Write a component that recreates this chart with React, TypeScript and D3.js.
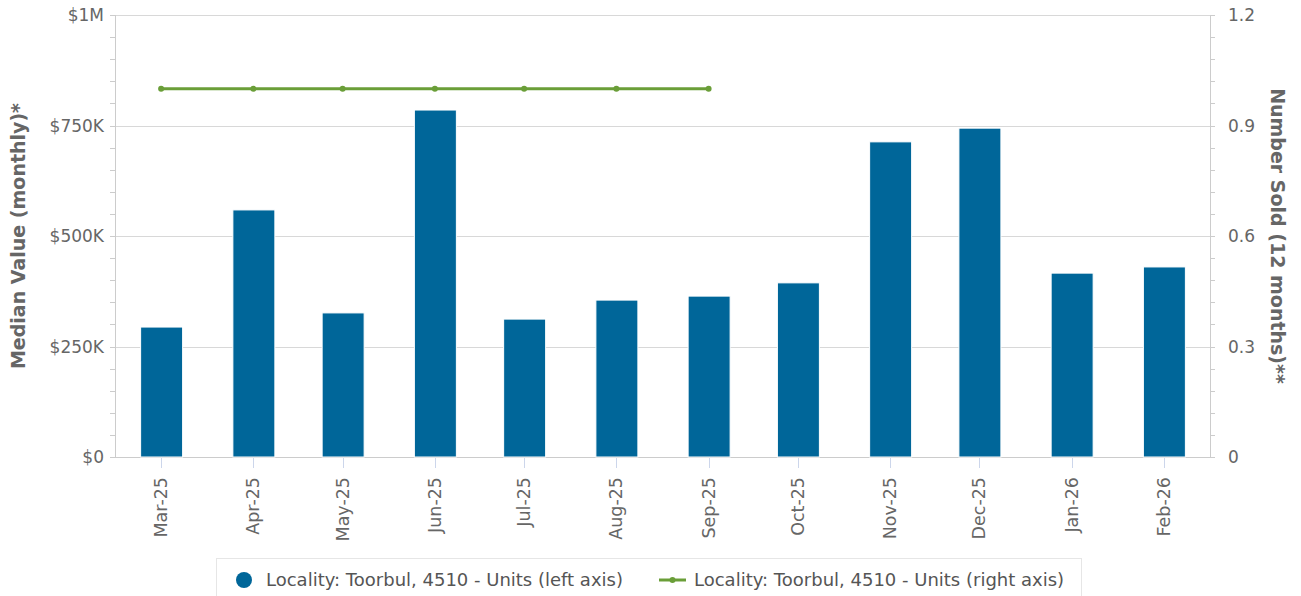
import React from "react";
import * as d3 from "d3";

const months = ["Mar-25","Apr-25","May-25","Jun-25","Jul-25","Aug-25","Sep-25","Oct-25","Nov-25","Dec-25","Jan-26","Feb-26"];
const monthDates = months.map((m) => d3.timeParse("%b-%y")(m) as Date);
const medianValues = [294000, 559000, 326000, 785000, 312000, 355000, 364000, 394000, 713000, 744000, 416000, 430000];
const numberSold: (number | null)[] = [1, 1, 1, 1, 1, 1, 1, null, null, null, null, null];
const leftTicks = [0, 250000, 500000, 750000, 1000000];
const leftTickLabels = ["$0", "$250K", "$500K", "$750K", "$1M"];
const rightTicks = [0, 0.3, 0.6, 0.9, 1.2];
const rightTickLabels = ["0", "0.3", "0.6", "0.9", "1.2"];
const seriesNames = ["Locality: Toorbul, 4510 - Units (left axis)", "Locality: Toorbul, 4510 - Units (right axis)"];

const W = 1301, H = 596;
const L = 115, R = 1210, T = 15, B = 457;
const BAR = "#006699";
const GREEN = "#6a9e38";
const FONT = "'DejaVu Sans', sans-serif";

export default function App() {
  const x = d3.scaleTime()
    .domain([d3.timeHour.offset(monthDates[0], -15.5 * 24), d3.timeHour.offset(monthDates[11], 15.5 * 24)])
    .range([L, R]);
  const yL = d3.scaleLinear().domain([0, 1000000]).range([B, T]);
  const yR = d3.scaleLinear().domain([0, 1.2]).range([B, T]);
  const minorL = d3.range(0, 1000001, 50000);
  const minorR = d3.range(0, 1.2001, 0.06);
  const barW = 42;
  const line = d3.line<[Date, number | null]>()
    .defined((d) => d[1] != null)
    .x((d) => x(d[0]))
    .y((d) => yR(d[1] as number));
  const lineData: [Date, number | null][] = monthDates.map((d, i) => [d, numberSold[i]]);

  return (
    <svg width={W} height={H} style={{ position: "fixed", left: 0, top: 0, background: "#fff" }} fontFamily={FONT}>
      {leftTicks.map((t) => (
        <line key={"g" + t} x1={L} x2={R} y1={Math.round(yL(t)) + 0.5} y2={Math.round(yL(t)) + 0.5} stroke="#d8d8d8" strokeWidth={1} />
      ))}
      <line x1={L + 0.5} x2={L + 0.5} y1={T} y2={B} stroke="#cccccc" />
      <line x1={R + 0.5} x2={R + 0.5} y1={T} y2={B} stroke="#cccccc" />
      <line x1={L} x2={R} y1={B + 0.5} y2={B + 0.5} stroke="#cccccc" />
      {minorL.map((t) => (
        <line key={"ml" + t} x1={L - 5} x2={L} y1={Math.round(yL(t)) + 0.5} y2={Math.round(yL(t)) + 0.5} stroke="#cccccc" />
      ))}
      {minorR.map((t, i) => (
        <line key={"mr" + i} x1={R} x2={R + 5} y1={Math.round(yR(t)) + 0.5} y2={Math.round(yR(t)) + 0.5} stroke="#cccccc" />
      ))}
      {monthDates.map((d, i) => (
        <rect key={"b" + i} x={x(d) - barW / 2 + 0.5} y={yL(medianValues[i])} width={barW} height={B - yL(medianValues[i])} fill={BAR} stroke="#fff" strokeWidth={1} />
      ))}
      {monthDates.map((d, i) => (
        <line key={"xt" + i} x1={Math.round(x(d)) + 0.5} x2={Math.round(x(d)) + 0.5} y1={B + 1} y2={B + 11} stroke="#ccd6eb" />
      ))}
      {monthDates.map((d, i) => (
        <text key={"xl" + i} transform={`translate(${x(d) + 6},${B + 20}) rotate(-90)`} textAnchor="end" fontSize={17.5} fill="#666666">
          {months[i]}
        </text>
      ))}
      {leftTicks.map((t, i) => (
        <text key={"ll" + t} x={L - 11} y={yL(t) + 6} textAnchor="end" fontSize={17} fill="#666666">{leftTickLabels[i]}</text>
      ))}
      {rightTicks.map((t, i) => (
        <text key={"rl" + i} x={R + 18} y={yR(t) + 6} textAnchor="start" fontSize={17} fill="#666666">{rightTickLabels[i]}</text>
      ))}
      <text transform={`translate(25,${(T + B) / 2}) rotate(-90)`} textAnchor="middle" fontSize={19} fontWeight="bold" fill="#666666">Median Value (monthly)*</text>
      <text transform={`translate(1271,${(T + B) / 2}) rotate(90)`} textAnchor="middle" fontSize={19} fontWeight="bold" fill="#666666">Number Sold (12 months)**</text>
      <path d={line(lineData) || ""} fill="none" stroke={GREEN} strokeWidth={3} />
      {lineData.filter((d) => d[1] != null).map((d, i) => (
        <circle key={"p" + i} cx={x(d[0])} cy={yR(d[1] as number)} r={3} fill={GREEN} />
      ))}
      <rect x={216.5} y={558.5} width={865} height={50} fill="#fff" stroke="#e6e6e6" />
      <circle cx={244} cy={580} r={8} fill={BAR} />
      <text x={266} y={586} fontSize={18} fill="#555555">{seriesNames[0]}</text>
      <line x1={659} x2={686} y1={580} y2={580} stroke={GREEN} strokeWidth={3} />
      <circle cx={672.5} cy={580} r={3} fill={GREEN} />
      <text x={694} y={586} fontSize={18} fill="#555555">{seriesNames[1]}</text>
    </svg>
  );
}
